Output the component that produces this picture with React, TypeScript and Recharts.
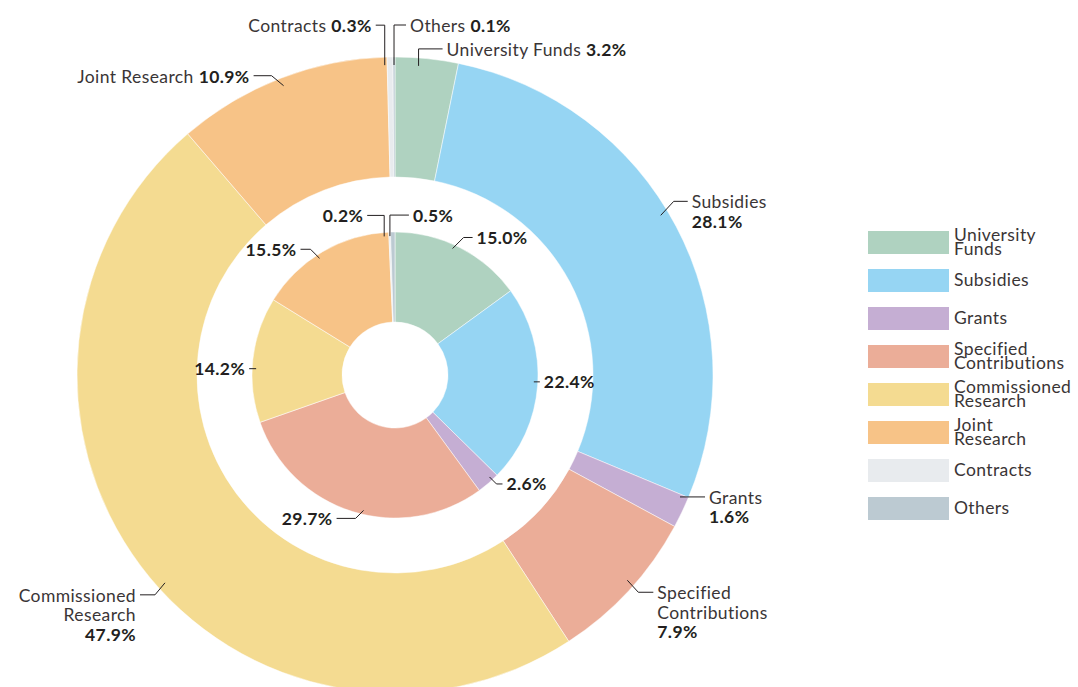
import { Legend, Pie, PieChart } from "recharts";

const categories = [
  "University Funds",
  "Subsidies",
  "Grants",
  "Specified Contributions",
  "Commissioned Research",
  "Joint Research",
  "Contracts",
  "Others",
];
const outerShares = [3.2, 28.1, 1.6, 7.9, 47.9, 10.9, 0.3, 0.1];
const innerShares = [15.0, 22.4, 2.6, 29.7, 14.2, 15.5, 0.2, 0.5];
const outerLabelLines = [
  ["University Funds"],
  ["Subsidies"],
  ["Grants"],
  ["Specified", "Contributions"],
  ["Commissioned", "Research"],
  ["Joint Research"],
  ["Contracts"],
  ["Others"],
];
const legendLines = [
  ["University", "Funds"],
  ["Subsidies"],
  ["Grants"],
  ["Specified", "Contributions"],
  ["Commissioned", "Research"],
  ["Joint", "Research"],
  ["Contracts"],
  ["Others"],
];
const colors = [
  "#afd2c0",
  "#96d5f3",
  "#c5aed3",
  "#ebad98",
  "#f4db91",
  "#f7c387",
  "#e8ebee",
  "#bccad2",
];

const outerData = categories.map((name, i) => ({ name, value: outerShares[i], fill: colors[i] }));
const innerData = categories.map((name, i) => ({ name, value: innerShares[i], fill: colors[i] }));

// leader line shapes (hand placed in the original)
type Leader = { nudge: number; ex: number; ey: number; h: number; stack?: boolean };
const outerLeaders: Leader[] = [
  { nudge: -1.4, ex: 0, ey: -17, h: 24 },
  { nudge: -3.1, ex: 13, ey: -14, h: 14, stack: true },
  { nudge: -2.4, ex: 0, ey: 0, h: 25, stack: true },
  { nudge: -1.2, ex: 11, ey: 12, h: 15, stack: true },
  { nudge: -5.2, ex: -10, ey: 12, h: -15, stack: true },
  { nudge: 0, ex: -12, ey: -10, h: -18 },
  { nudge: -1, ex: 0, ey: -40, h: -9 },
  { nudge: 0, ex: 0, ey: -40, h: 12 },
];
const innerLeaders: Leader[] = [
  { nudge: -2.5, ex: 11, ey: -11, h: 9 },
  { nudge: -1.4, ex: 0, ey: 0, h: 6 },
  { nudge: -2, ex: 7, ey: 7, h: 6 },
  { nudge: -4.2, ex: -8, ey: 8, h: -19 },
  { nudge: -3.6, ex: 0, ey: 0, h: -7 },
  { nudge: -2.5, ex: -9, ey: -9, h: -10 },
  { nudge: -2.3, ex: 0, ey: -21, h: -17 },
  { nudge: -1.2, ex: 0, ey: -21, h: 19 },
];

const FONT = "Lato, sans-serif";
const SIZE = 17.5;
const SPACING = 0.4;
const TEXT = "#3a3536";
const BOLD = "#231f20";
const RAD = Math.PI / 180;

function makeLabel(ring: "outer" | "inner") {
  return (props: any) => {
    const { cx, cy, midAngle, outerRadius, index } = props;
    const L = ring === "outer" ? outerLeaders[index] : innerLeaders[index];
    const shares = ring === "outer" ? outerShares : innerShares;
    const r = outerRadius - (ring === "outer" ? 8 : 4);
    const a = (midAngle - L.nudge) * RAD;
    const x0 = cx + r * Math.cos(a);
    const y0 = cy - r * Math.sin(a);
    const x1 = x0 + L.ex;
    const y1 = y0 + L.ey;
    const x2 = x1 + L.h;
    const anchor = L.h < 0 ? "end" : "start";
    const tx = x2 + (L.h < 0 ? -4 : 4);
    const value = `${shares[index].toFixed(1)}%`;
    let text;
    if (ring === "inner") {
      text = (
        <text x={tx} y={y1} textAnchor={anchor} dominantBaseline="central" fontWeight={700} fill={BOLD}>
          {value}
        </text>
      );
    } else if (L.stack) {
      const lines = outerLabelLines[index];
      text = (
        <text x={tx} y={y1} textAnchor={anchor} dominantBaseline="central">
          {lines.map((ln, k) => (
            <tspan key={k} x={tx} dy={k === 0 ? 0 : 19.5} fill={TEXT}>
              {ln}
            </tspan>
          ))}
          <tspan x={tx} dy={19.5} fontWeight={700} fill={BOLD}>
            {value}
          </tspan>
        </text>
      );
    } else {
      text = (
        <text x={tx} y={y1} textAnchor={anchor} dominantBaseline="central">
          <tspan fill={TEXT}>{outerLabelLines[index][0]} </tspan>
          <tspan fontWeight={700} fill={BOLD}>
            {value}
          </tspan>
        </text>
      );
    }
    return (
      <g fontFamily={FONT} fontSize={SIZE} letterSpacing={SPACING}>
        <polyline points={`${x0},${y0} ${x1},${y1} ${x2},${y1}`} fill="none" stroke={BOLD} strokeWidth={1} />
        {text}
      </g>
    );
  };
}

function LegendBox() {
  return (
    <div style={{ fontFamily: FONT, fontSize: SIZE, letterSpacing: SPACING, color: TEXT }}>
      {categories.map((c, i) => (
        <div key={c} style={{ display: "flex", alignItems: "center", height: 38 }}>
          <div style={{ width: 81, height: 23, background: colors[i], flexShrink: 0 }} />
          <div style={{ marginLeft: 5, lineHeight: "14px" }}>
            {legendLines[i].map((ln) => (
              <div key={ln}>{ln}</div>
            ))}
          </div>
        </div>
      ))}
    </div>
  );
}

export default function App() {
  return (
    <div style={{ position: "fixed", left: 0, top: 0, width: 1078, height: 687, background: "#fff" }}>
      <PieChart width={1078} height={687} margin={{ top: 0, right: 0, bottom: 0, left: 0 }}>
        <Pie
          data={outerData}
          dataKey="value"
          nameKey="name"
          cx={395}
          cy={375}
          innerRadius={198}
          outerRadius={318}
          startAngle={90}
          endAngle={-270}
          stroke="#fff"
          strokeWidth={0.5}
          label={makeLabel("outer")}
          labelLine={false}
          isAnimationActive={false}
        />
        <Pie
          data={innerData}
          dataKey="value"
          nameKey="name"
          cx={395}
          cy={375}
          innerRadius={53}
          outerRadius={143}
          startAngle={90}
          endAngle={-270}
          stroke="#fff"
          strokeWidth={0.5}
          label={makeLabel("inner")}
          labelLine={false}
          isAnimationActive={false}
        />
        <Legend
          content={() => <LegendBox />}
          wrapperStyle={{ position: "absolute", left: 868, top: 223, width: 210 }}
        />
      </PieChart>
    </div>
  );
}
